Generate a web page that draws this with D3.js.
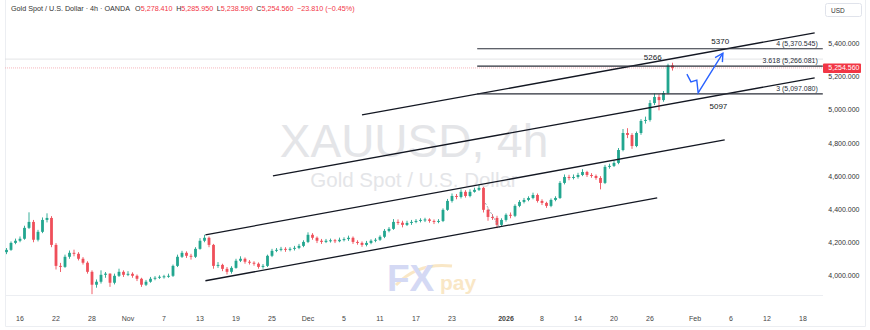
<!DOCTYPE html>
<html>
<head>
<meta charset="utf-8">
<script src="https://d3js.org/d3.v7.min.js"></script>
<style>
  body { margin: 0; background: #fff; }
  svg { display: block; font-family: "Liberation Sans", Arial, sans-serif; }
</style>
</head>
<body>
<div id="chart"></div>
<script>
// 12h candles, two per trading day, first one at trading-day -1.5 (Oct 16 = day 0)
const firstDay = -1.5;
const firstOpen = 4140;
const closes = [
  4154, 4196, 4209, 4221, 4287, 4323, 4215, 4263, 4335, 4347,
  4184, 4057, 4051, 4112, 4136, 4130, 4100, 4076, 4021, 3943,
  3961, 4003, 4010, 3955, 3997, 4021, 4003, 4009, 3997, 3979,
  3943, 3961, 3979, 3985, 3991, 3994, 3997, 4057, 4112, 4136,
  4118, 4112, 4160, 4209, 4227, 4184, 4057, 4063, 4039, 4021,
  4045, 4088, 4100, 4082, 4076, 4070, 4051, 4057, 4118, 4148,
  4154, 4160, 4154, 4160, 4166, 4178, 4202, 4245, 4227, 4209,
  4202, 4209, 4212, 4206, 4215, 4219, 4227, 4202, 4196, 4184,
  4196, 4209, 4215, 4233, 4269, 4281, 4323, 4318, 4305, 4317,
  4323, 4329, 4335, 4338, 4329, 4323, 4329, 4396, 4450, 4480,
  4474, 4505, 4480, 4505, 4517, 4529, 4396, 4353, 4347, 4305,
  4335, 4366, 4360, 4420, 4444, 4456, 4468, 4486, 4450, 4438,
  4420, 4456, 4468, 4559, 4595, 4589, 4595, 4607, 4625, 4607,
  4601, 4589, 4559, 4656, 4662, 4680, 4758, 4861, 4849, 4782,
  4861, 4934, 4940, 5042, 5079, 5060, 5103, 5270, 5254.56
];
const highs = [
  4165, 4205, 4222, 4235, 4300, 4381, 4335, 4275, 4350, 4375,
  4358, 4195, 4075, 4125, 4150, 4155, 4140, 4110, 4085, 4030,
  3975, 4030, 4020, 4012, 4010, 4040, 4030, 4025, 4018, 4005,
  3985, 3972, 3990, 3995, 4000, 4003, 4010, 4065, 4125, 4148,
  4145, 4130, 4170, 4225, 4245, 4235, 4190, 4080, 4070, 4050,
  4055, 4100, 4115, 4108, 4092, 4085, 4078, 4068, 4125, 4160,
  4165, 4172, 4170, 4170, 4178, 4190, 4212, 4260, 4255, 4235,
  4220, 4220, 4222, 4220, 4228, 4230, 4240, 4235, 4212, 4205,
  4208, 4218, 4225, 4242, 4280, 4292, 4340, 4338, 4330, 4330,
  4335, 4340, 4345, 4348, 4345, 4338, 4340, 4405, 4462, 4495,
  4492, 4520, 4515, 4520, 4530, 4550, 4535, 4405, 4370, 4360,
  4345, 4375, 4380, 4430, 4455, 4468, 4478, 4500, 4495, 4460,
  4445, 4465, 4478, 4570, 4610, 4608, 4610, 4620, 4642, 4632,
  4618, 4610, 4600, 4668, 4675, 4695, 4770, 4885, 4890, 4860,
  4870, 4945, 4960, 5060, 5100, 5095, 5115, 5280, 5285.95
];
const lows = [
  4128, 4148, 4188, 4200, 4215, 4280, 4200, 4205, 4255, 4320,
  4170, 4035, 4020, 4045, 4100, 4115, 4090, 4065, 4010, 3886,
  3925, 3950, 3985, 3930, 3945, 3990, 3990, 3995, 3985, 3965,
  3930, 3935, 3955, 3970, 3978, 3980, 3985, 3990, 4050, 4105,
  4105, 4095, 4105, 4155, 4200, 4170, 4040, 4045, 4025, 4005,
  4010, 4040, 4080, 4070, 4065, 4058, 4040, 4040, 4050, 4110,
  4140, 4145, 4142, 4145, 4150, 4158, 4170, 4195, 4215, 4195,
  4190, 4195, 4198, 4195, 4200, 4205, 4208, 4190, 4185, 4172,
  4175, 4188, 4200, 4208, 4225, 4260, 4275, 4305, 4290, 4298,
  4305, 4315, 4320, 4322, 4318, 4310, 4315, 4322, 4390, 4440,
  4460, 4465, 4470, 4472, 4500, 4510, 4380, 4330, 4335, 4285,
  4295, 4325, 4345, 4352, 4412, 4435, 4448, 4460, 4440, 4425,
  4408, 4412, 4448, 4462, 4550, 4575, 4580, 4585, 4600, 4595,
  4590, 4578, 4520, 4552, 4645, 4655, 4672, 4750, 4830, 4765,
  4775, 4850, 4918, 4930, 5030, 4998, 5050, 5095, 5238.59
];

// Time axis (trading-day index, weekends and holidays skipped)
const tickDays = [0, 4, 8, 12, 16, 20, 24, 28, 32, 36, 40, 44, 48, 54, 58, 62, 66, 70, 75, 79, 83, 87];
const tickLabels = ["16", "22", "28", "Nov", "7", "13", "19", "25", "Dec", "5", "11", "17", "23",
                    "2026", "8", "14", "20", "26", "Feb", "6", "12", "18"];
const priceTicks = [4000, 4200, 4400, 4600, 4800, 5000, 5200, 5400];

// Drawings: [day, price] pairs
const channelLines = [
  [[38.0, 4970], [88.3, 5467]],
  [[28.1, 4601], [88.3, 5195]],
  [[20.6, 4245], [78.3, 4819]],
  [[20.6, 3967], [70.8, 4468]]
];
const dashedLine = [[51.7, 4437], [53.3, 4286]];
const fibLevels = [
  { label: "4 (5,370.545)", value: 5370.545, note: "5370", noteDay: 77.8, notePrice: 5398 },
  { label: "3.618 (5,266.081)", value: 5266.081, note: "5266", noteDay: 70.3, notePrice: 5305 },
  { label: "3 (5,097.080)", value: 5097.08, note: "5097", noteDay: 77.6, notePrice: 5005 }
];
const fibStart = 50.8, fibEnd = 89.2;
const projection = [[74.1, 5217], [74.55, 5170], [75.2, 5181], [75.35, 5103], [78.1, 5344]];
const lastPrice = 5254.56;
const sessionHigh = 5308;

const legendHead = "Gold Spot / U.S. Dollar · 4h · OANDA";
const legendValues = [["O", "5,278.410"], ["H", "5,285.950"], ["L", "5,238.590"], ["C", "5,254.560"]];
const legendChange = "\u221223.810 (\u22120.45%)";

const upColor = "#22a68f";
const downColor = "#ef4f5a";
const width = 870, height = 330;

function buildChart() {
  const x = d3.scaleLinear().domain([0, 87]).range([20, 803]);
  const y = d3.scaleLinear().domain([4000, 5400]).range([275.3, 43.9]);
  const fmt = d3.format(",.3f");

  const candles = closes.map((c, k) => ({
    day: firstDay + k * 0.5,
    o: k ? closes[k - 1] : firstOpen,
    h: highs[k],
    l: lows[k],
    c: c
  }));

  const svg = d3.select("#chart").append("svg")
    .attr("width", width)
    .attr("height", height);

  // Frame
  svg.append("path")
    .attr("d", "M5.5,0V326.5H865.5V0")
    .attr("fill", "none")
    .attr("stroke", "#eceef2");
  svg.append("line")
    .attr("x1", 5).attr("x2", 823).attr("y1", 295.5).attr("y2", 295.5)
    .attr("stroke", "#eceef2");

  // Watermark
  svg.append("text")
    .attr("x", 414).attr("y", 157)
    .attr("text-anchor", "middle")
    .attr("font-size", 46)
    .attr("fill", "#e4e5e8")
    .text("XAUUSD, 4h");
  svg.append("text")
    .attr("x", 414).attr("y", 187)
    .attr("text-anchor", "middle")
    .attr("font-size", 20.5)
    .attr("fill", "#e4e5e8")
    .text("Gold Spot / U.S. Dollar");

  // Logo
  const logo = svg.append("g").attr("opacity", 0.42);
  logo.append("path")
    .attr("d", "M396,285 Q418,262 452,266")
    .attr("fill", "none")
    .attr("stroke", "#f3c77a")
    .attr("stroke-width", 3);
  logo.append("text")
    .attr("x", 387).attr("y", 291)
    .attr("font-size", 37).attr("font-weight", "bold")
    .attr("fill", "#9aa6e6")
    .text("FX");
  logo.append("text")
    .attr("x", 440).attr("y", 290)
    .attr("font-size", 21).attr("font-weight", "bold")
    .attr("fill", "#f3c77a")
    .text("pay");

  // Reference lines
  svg.append("line")
    .attr("x1", 5).attr("x2", 823)
    .attr("y1", y(sessionHigh)).attr("y2", y(sessionHigh))
    .attr("stroke", "#dcdde0").attr("stroke-width", 0.8);
  svg.append("line")
    .attr("x1", 5).attr("x2", 823)
    .attr("y1", y(lastPrice)).attr("y2", y(lastPrice))
    .attr("stroke", "#f5a3ab").attr("stroke-width", 0.8)
    .attr("stroke-dasharray", "1 1");

  // Candles
  const candle = svg.append("g").selectAll("g")
    .data(candles)
    .join("g")
    .attr("fill", d => d.c >= d.o ? upColor : downColor)
    .attr("stroke", d => d.c >= d.o ? upColor : downColor);

  candle.append("line")
    .attr("x1", d => x(d.day)).attr("x2", d => x(d.day))
    .attr("y1", d => y(d.h)).attr("y2", d => y(d.l))
    .attr("stroke-width", 0.9);

  candle.append("rect")
    .attr("x", d => x(d.day) - 1.4)
    .attr("width", 2.8)
    .attr("y", d => y(Math.max(d.o, d.c)))
    .attr("height", d => Math.max(1, Math.abs(y(d.o) - y(d.c))))
    .attr("stroke", "none");

  svg.append("line")
    .attr("x1", x(dashedLine[0][0])).attr("y1", y(dashedLine[0][1]))
    .attr("x2", x(dashedLine[1][0])).attr("y2", y(dashedLine[1][1]))
    .attr("stroke", "#8a8e99")
    .attr("stroke-width", 0.8)
    .attr("stroke-dasharray", "2 1.5");

  // Channel lines
  svg.append("g").selectAll("line")
    .data(channelLines)
    .join("line")
    .attr("x1", d => x(d[0][0])).attr("y1", d => y(d[0][1]))
    .attr("x2", d => x(d[1][0])).attr("y2", d => y(d[1][1]))
    .attr("stroke", "#131722")
    .attr("stroke-width", 1.3);

  // Fibonacci levels
  const fib = svg.append("g").selectAll("g")
    .data(fibLevels)
    .join("g");
  fib.append("line")
    .attr("x1", x(fibStart)).attr("x2", x(fibEnd))
    .attr("y1", d => y(d.value)).attr("y2", d => y(d.value))
    .attr("stroke", "#2a2e39")
    .attr("stroke-width", 1.2);
  fib.append("text")
    .attr("x", x(fibEnd) - 5)
    .attr("y", d => y(d.value) - 3.2)
    .attr("text-anchor", "end")
    .attr("font-size", 7)
    .attr("fill", "#2a2e39")
    .text(d => d.label);
  fib.append("text")
    .attr("x", d => x(d.noteDay))
    .attr("y", d => y(d.notePrice))
    .attr("text-anchor", "middle")
    .attr("font-size", 8)
    .attr("fill", "#131722")
    .text(d => d.note);

  // Projection arrow
  const pts = projection.map(p => [x(p[0]), y(p[1])]);
  svg.append("path")
    .attr("d", d3.line()(pts))
    .attr("fill", "none")
    .attr("stroke", "#2962ff")
    .attr("stroke-width", 1.4);
  const tip = pts[pts.length - 1], prev = pts[pts.length - 2];
  const ang = Math.atan2(prev[1] - tip[1], prev[0] - tip[0]);
  const head = [-0.5, 0.5].map(a => [tip[0] + 9 * Math.cos(ang + a), tip[1] + 9 * Math.sin(ang + a)]);
  svg.append("path")
    .attr("d", d3.line()([head[0], tip, head[1]]))
    .attr("fill", "none")
    .attr("stroke", "#2962ff")
    .attr("stroke-width", 1.4);

  // Price axis
  svg.append("g").selectAll("text")
    .data(priceTicks)
    .join("text")
    .attr("x", 859.5)
    .attr("y", d => y(d))
    .attr("dy", "0.35em")
    .attr("text-anchor", "end")
    .attr("font-size", 7)
    .attr("fill", "#333")
    .text(d => fmt(d));

  const tag = svg.append("g");
  tag.append("rect")
    .attr("x", 823).attr("y", y(lastPrice) - 4.5)
    .attr("width", 38).attr("height", 9.5)
    .attr("rx", 1)
    .attr("fill", "#f23645");
  tag.append("text")
    .attr("x", 859.5).attr("y", y(lastPrice))
    .attr("dy", "0.35em")
    .attr("text-anchor", "end")
    .attr("font-size", 7)
    .attr("fill", "#fff")
    .text(fmt(lastPrice));

  svg.append("rect")
    .attr("x", 825.5).attr("y", 3.5)
    .attr("width", 36).attr("height", 13)
    .attr("rx", 2)
    .attr("fill", "#fff")
    .attr("stroke", "#e0e3eb");
  svg.append("text")
    .attr("x", 831).attr("y", 12.5)
    .attr("font-size", 6.5)
    .attr("fill", "#333")
    .text("USD");

  // Time axis
  svg.append("g").selectAll("text")
    .data(tickDays)
    .join("text")
    .attr("x", d => x(d))
    .attr("y", 320.5)
    .attr("text-anchor", "middle")
    .attr("font-size", 7)
    .attr("font-weight", (d, i) => tickLabels[i] === "2026" ? "bold" : "normal")
    .attr("fill", "#444")
    .text((d, i) => tickLabels[i]);

  // Legend
  const legend = svg.append("text")
    .attr("x", 11).attr("y", 11)
    .attr("font-size", 7.2)
    .attr("fill", "#333");
  legend.append("tspan").text(legendHead);
  legendValues.forEach((v, i) => {
    legend.append("tspan").attr("dx", i ? 3.5 : 5).text(v[0]);
    legend.append("tspan").attr("fill", "#f23645").text(v[1]);
  });
  legend.append("tspan").attr("dx", 3.5).attr("fill", "#f23645").text(legendChange);
}

buildChart();
</script>
</body>
</html>
